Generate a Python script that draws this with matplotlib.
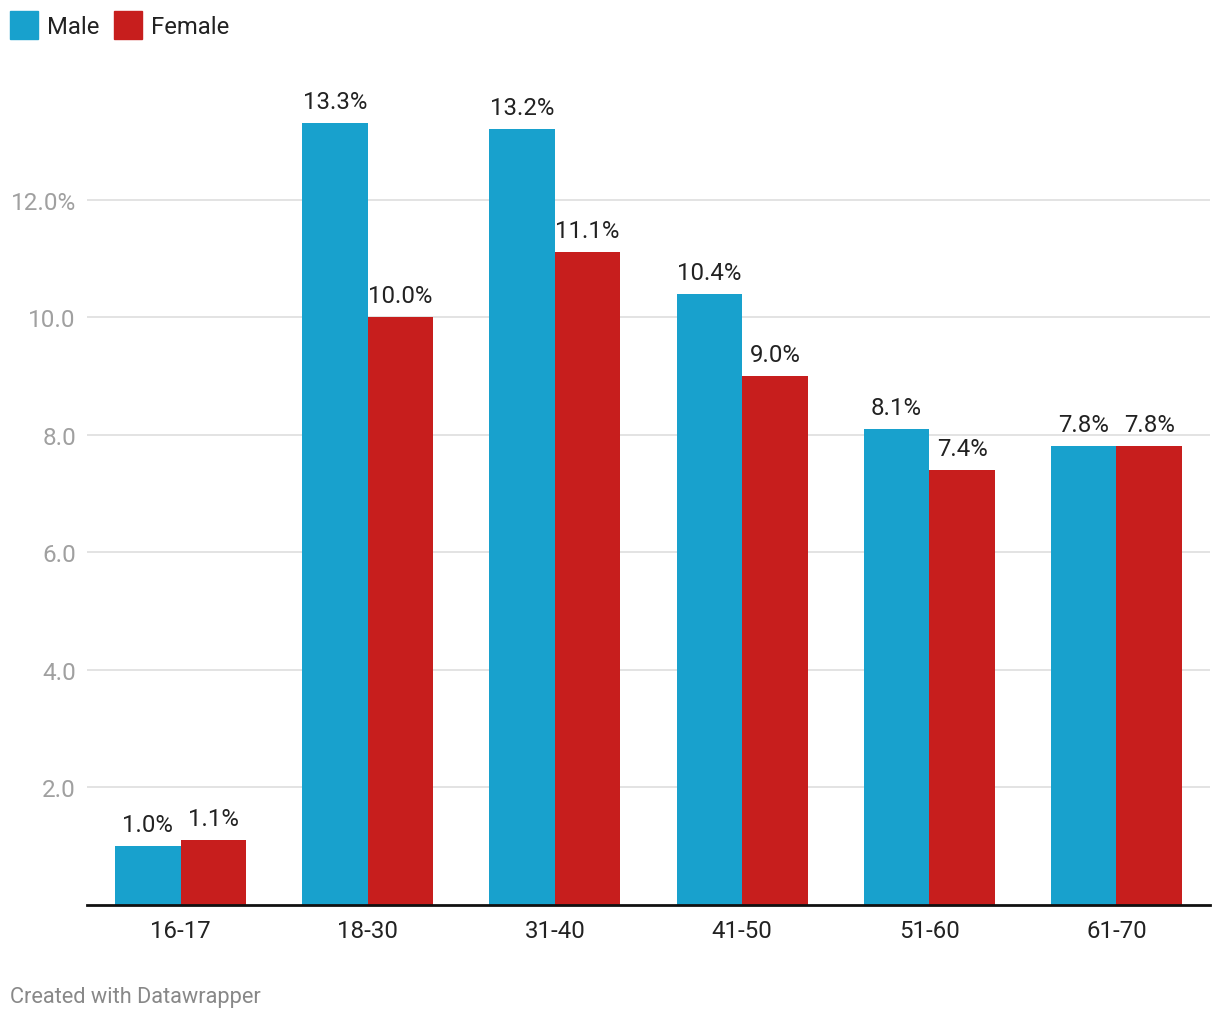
import numpy as np
import matplotlib.pyplot as plt
from matplotlib.patches import Rectangle

plt.rcParams["font.family"] = ["Roboto", "DejaVu Sans"]

AGE_GROUPS = ["16-17", "18-30", "31-40", "41-50", "51-60", "61-70"]
MALE = [1.0, 13.3, 13.2, 10.4, 8.1, 7.8]
FEMALE = [1.1, 10.0, 11.1, 9.0, 7.4, 7.8]
Y_TICKS = [2, 4, 6, 8, 10, 12]
Y_TICK_LABELS = ["2.0", "4.0", "6.0", "8.0", "10.0", "12.0%"]

MALE_COLOR = "#18a1cd"
FEMALE_COLOR = "#c71e1d"

W, H = 1220, 1020
fig = plt.figure(figsize=(W / 100, H / 100), dpi=100)

# axes box in pixels: left 87, right 1210, baseline 906, top 83
ax = fig.add_axes([87 / W, 1 - 906 / H, (1210 - 87) / W, (906 - 83) / H])

x = np.arange(len(AGE_GROUPS))
bw = 0.35
ax.bar(x - bw / 2, MALE, width=bw, color=MALE_COLOR, zorder=2)
ax.bar(x + bw / 2, FEMALE, width=bw, color=FEMALE_COLOR, zorder=2)

for xi, m, f in zip(x, MALE, FEMALE):
    ax.annotate(f"{m:.1f}%", (xi - bw / 2, m), xytext=(0, 10), textcoords="offset pixels",
                ha="center", va="bottom", fontsize=17.3, color="#222222")
    ax.annotate(f"{f:.1f}%", (xi + bw / 2, f), xytext=(0, 10), textcoords="offset pixels",
                ha="center", va="bottom", fontsize=17.3, color="#222222")

ax.set_xlim(-0.5, 5.5)
ax.set_ylim(0, 14)
ax.set_yticks(Y_TICKS)
ax.set_yticklabels(Y_TICK_LABELS)
ax.set_xticks(x)
ax.set_xticklabels(AGE_GROUPS)
ax.grid(axis="y", color="#e0e0e0", linewidth=1.3, zorder=0)
ax.set_axisbelow(True)

for side in ["left", "right", "top"]:
    ax.spines[side].set_visible(False)
ax.spines["bottom"].set_color("#111111")
ax.spines["bottom"].set_linewidth(2)
ax.spines["bottom"].set_zorder(3)

ax.tick_params(axis="y", length=0, pad=8, labelsize=17.5, labelcolor="#a0a0a0")
ax.tick_params(axis="x", length=0, pad=10, labelsize=17.3, labelcolor="#222222")

# legend drawn by hand at the top left
for x0, label, color in [(10, "Male", MALE_COLOR), (114, "Female", FEMALE_COLOR)]:
    fig.patches.append(Rectangle((x0 / W, 1 - 40 / H), 28 / W, 28 / H,
                                 transform=fig.transFigure, color=color))
    fig.text((x0 + 37) / W, 1 - 27 / H, label, fontsize=17.2, color="#222222",
             ha="left", va="center")

fig.text(10 / W, 1 - 998 / H, "Created with Datawrapper", fontsize=15.7,
         color="#888888", ha="left", va="center")

fig.savefig("out.png", dpi=100)
